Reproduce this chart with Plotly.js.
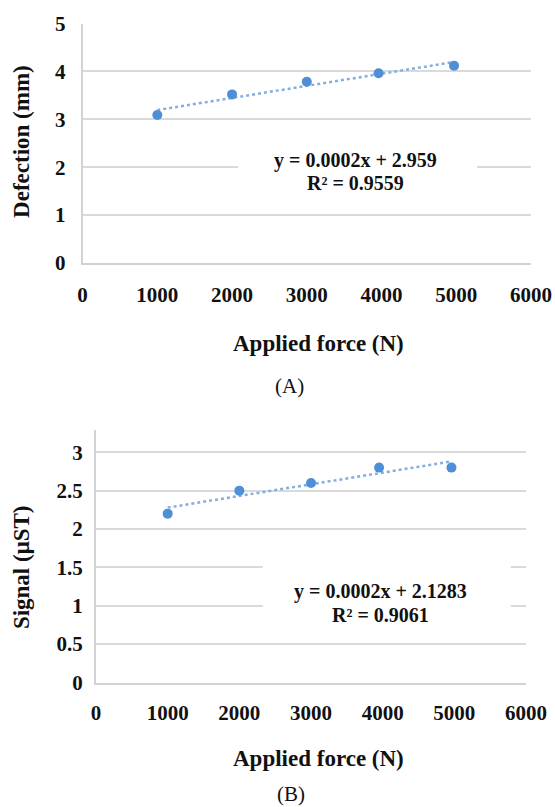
<!DOCTYPE html>
<html><head><meta charset="utf-8">
<script src="https://cdn.plot.ly/plotly-3.0.1.min.js"></script>
<style>html,body{margin:0;padding:0;background:#fff}#chart{width:555px;height:807px}</style>
</head><body><div id="chart"></div>
<script>
// ---- data ----
const forceA = [1000, 2000, 3000, 3960, 4970];
const deflectionA = [3.09, 3.52, 3.785, 3.96, 4.12];
const forceB = [1000, 2000, 3000, 3950, 4960];
const signalB = [2.2, 2.5, 2.6, 2.8, 2.8];
const xTicks = [0, 1000, 2000, 3000, 4000, 5000, 6000];
const yTicksA = [0, 1, 2, 3, 4, 5];
const yTicksB = [0, 0.5, 1, 1.5, 2, 2.5, 3];
const eqA = ['y = 0.0002x + 2.959', 'R² = 0.9559'];
const eqB = ['y = 0.0002x + 2.1283', 'R² = 0.9061'];
const titleA = {x: 'Applied force (N)', y: 'Defection (mm)', panel: '(A)'};
const titleB = {x: 'Applied force (N)', y: 'Signal (μST)', panel: '(B)'};

// least squares trend line computed from the data
function trend(xs, ys) {
  const n = xs.length;
  const mx = xs.reduce((a, b) => a + b, 0) / n;
  const my = ys.reduce((a, b) => a + b, 0) / n;
  let sxy = 0, sxx = 0;
  for (let i = 0; i < n; i++) { sxy += (xs[i] - mx) * (ys[i] - my); sxx += (xs[i] - mx) ** 2; }
  const b = sxy / sxx, a = my - b * mx;
  const tx = [xs[0], xs[n - 1]];
  return {x: tx, y: tx.map(v => a + b * v)};
}

const W = 555, H = 807;
const PX = p => p / W;
const PY = p => 1 - p / H;

const SERIF = 'Liberation Serif, Times New Roman, serif';
const tickFont = {family: SERIF, size: 21, color: '#111', weight: 'bold'};
const markerColor = '#4f8fd6';
const trendColor = '#84aee0';
const gridColor = '#dadada';
const lineColor = '#d2d2d2';

const tA = trend(forceA, deflectionA);
const tB = trend(forceB, signalB);

const data = [
  {x: tA.x, y: tA.y, xaxis: 'x', yaxis: 'y', mode: 'lines', line: {color: trendColor, width: 2.5, dash: 'dot'}, hoverinfo: 'skip'},
  {x: forceA, y: deflectionA, xaxis: 'x', yaxis: 'y', mode: 'markers', marker: {color: markerColor, size: 10}},
  {x: tB.x, y: tB.y, xaxis: 'x2', yaxis: 'y2', mode: 'lines', line: {color: trendColor, width: 2.5, dash: 'dot'}, hoverinfo: 'skip'},
  {x: forceB, y: signalB, xaxis: 'x2', yaxis: 'y2', mode: 'markers', marker: {color: markerColor, size: 10}}
];

function xax(d0, d1, anchor, standoff) {
  return {domain: [PX(d0), PX(d1)], range: [0, 6000], anchor: anchor, tickvals: xTicks,
    ticktext: xTicks.map(String), showgrid: false, zeroline: false, showline: true,
    linecolor: lineColor, linewidth: 2, ticks: '', tickfont: tickFont, ticklabelstandoff: standoff, fixedrange: true};
}
function yax(top, bot, range, vals, anchor, standoff) {
  return {domain: [PY(bot), PY(top)], range: range, anchor: anchor, tickvals: vals,
    ticktext: vals.map(String), showgrid: true, gridcolor: gridColor, gridwidth: 2, zeroline: false,
    showline: true, linecolor: lineColor, linewidth: 2, ticks: '', tickfont: tickFont,
    ticklabelstandoff: standoff, fixedrange: true};
}

function ann(text, x, y, opts) {
  return Object.assign({text: text, x: PX(x), y: PY(y), xref: 'paper', yref: 'paper',
    showarrow: false, xanchor: 'center', yanchor: 'middle',
    font: {family: SERIF, size: 20, color: '#111', weight: 'bold'}}, opts || {});
}
const titleFont = {family: SERIF, size: 23, color: '#111', weight: 'bold'};
const panelFont = {family: SERIF, size: 21, color: '#111'};

const layout = {
  width: W, height: H, margin: {l: 0, r: 0, t: 0, b: 0},
  paper_bgcolor: '#fff', plot_bgcolor: '#fff', showlegend: false,
  xaxis: xax(82.6, 531, 'y', 12),
  yaxis: yax(23.5, 263, [0, 5], yTicksA, 'x', 11),
  xaxis2: xax(96, 526, 'y2', 10),
  yaxis2: yax(430, 682.5, [0, 3.29], yTicksB, 'x2', 7),
  shapes: [
    {type: 'rect', xref: 'paper', yref: 'paper', x0: PX(238), x1: PX(477), y0: PY(198), y1: PY(145), fillcolor: '#fff', line: {width: 0}, layer: 'above'},
    {type: 'rect', xref: 'paper', yref: 'paper', x0: PX(262.7), x1: PX(510.7), y0: PY(632), y1: PY(548), fillcolor: '#fff', line: {width: 0}, layer: 'above'}
  ],
  annotations: [
    ann(eqA[0], 355.5, 160), ann(eqA[1], 355.5, 183.3),
    ann(eqB[0], 380.8, 591.7), ann(eqB[1], 380.8, 615),
    ann(titleA.y, 21.4, 141.5, {textangle: -90, font: titleFont}),
    ann(titleA.x, 318.5, 343, {font: titleFont}),
    ann(titleA.panel, 289.5, 386, {font: panelFont}),
    ann(titleB.y, 21.4, 566.7, {textangle: -90, font: titleFont}),
    ann(titleB.x, 318, 758.3, {font: titleFont}),
    ann(titleB.panel, 290.5, 794, {font: panelFont})
  ]
};

Plotly.newPlot('chart', data, layout, {staticPlot: true, displayModeBar: false});
</script>
</body></html>
